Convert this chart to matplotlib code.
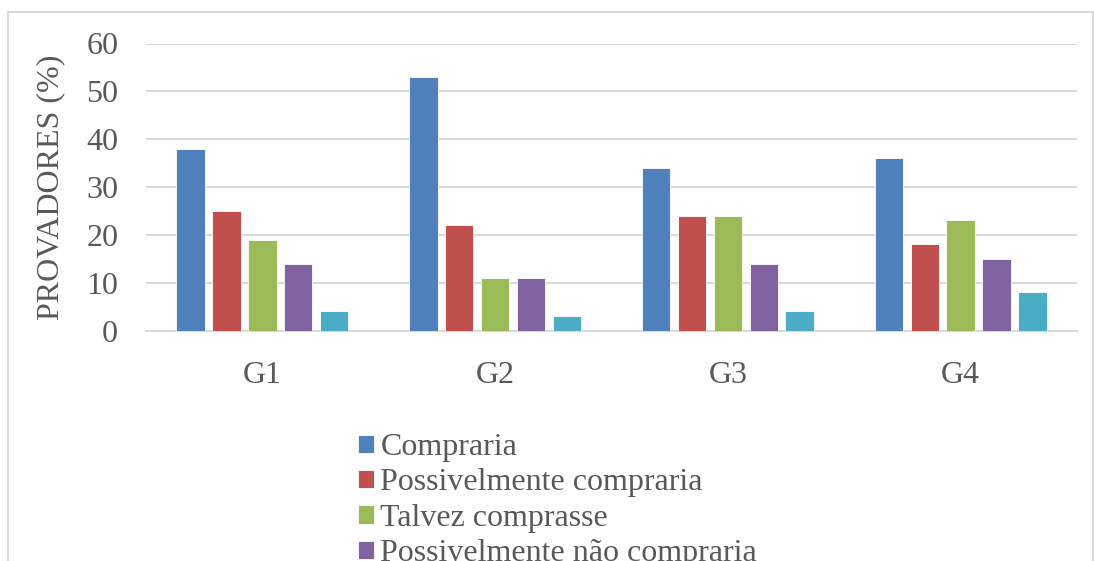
import matplotlib
matplotlib.use("Agg")
import matplotlib.pyplot as plt
import numpy as np
from matplotlib.patches import Rectangle

categories = ["G1", "G2", "G3", "G4"]
series_names = ["Compraria", "Possivelmente compraria", "Talvez comprasse",
                "Possivelmente não compraria", "Não compraria"]
compraria = [38, 53, 34, 36]
possivelmente_compraria = [25, 22, 24, 18]
talvez_comprasse = [19, 11, 24, 23]
possivelmente_nao_compraria = [14, 11, 14, 15]
nao_compraria = [4, 3, 4, 8]
series_values = [compraria, possivelmente_compraria, talvez_comprasse,
                 possivelmente_nao_compraria, nao_compraria]
colors = ["#4F81BD", "#C0504D", "#9BBB59", "#8064A2", "#4BACC6"]
yticks = [0, 10, 20, 30, 40, 50, 60]

plt.rcParams['font.family'] = ['Liberation Serif', 'DejaVu Serif']
W, H = 1094, 561
fig = plt.figure(figsize=(W / 100, H / 100), dpi=100)

# outer chart border
fig.patches.append(Rectangle((8 / W, -0.2), (1093 - 8) / W, 1.2 - 12 / H,
                             transform=fig.transFigure, fill=False,
                             edgecolor="#d9d9d9", linewidth=1.5))

left, right = 146 / W, 1077 / W
top_px, bot_px = 43.5, 330.5
ax = fig.add_axes([left, 1 - bot_px / H, right - left, (bot_px - top_px) / H])

x = np.arange(len(categories))
slot = 0.154
bw = 0.122
n = len(series_values)
for i, (vals, name, c) in enumerate(zip(series_values, series_names, colors)):
    ax.bar(x + (i - (n - 1) / 2) * slot, vals, width=bw, color=c, label=name,
           edgecolor="white", linewidth=0.6, zorder=3)

FS = 23
ax.set_xlim(-0.5, len(categories) - 0.5)
ax.set_ylim(0, 60)
ax.set_yticks(yticks)
ax.set_xticks(x)
ax.set_xticklabels(categories)
ax.yaxis.grid(True, color="#d9d9d9", linewidth=1.5, zorder=0)
for s in ["top", "right", "left"]:
    ax.spines[s].set_visible(False)
ax.spines["bottom"].set_color("#d9d9d9")
ax.spines["bottom"].set_linewidth(1.5)
ax.tick_params(axis="both", length=0, labelsize=FS, colors="#595959")
ax.tick_params(axis="x", pad=22)
ax.tick_params(axis="y", pad=20)
ax.set_ylabel("PROVADORES (%)", fontsize=FS, color="#595959", labelpad=15)

handles, labels = ax.get_legend_handles_labels()
leg = fig.legend(handles, labels, loc="upper left",
                 bbox_to_anchor=(342 / W, 1 - 417 / H), frameon=False,
                 fontsize=FS, handlelength=0.5, handleheight=0.5,
                 handletextpad=0.2, labelspacing=0.2, borderpad=0)
for t in leg.get_texts():
    t.set_color("#595959")

fig.savefig("out.png", dpi=100)
